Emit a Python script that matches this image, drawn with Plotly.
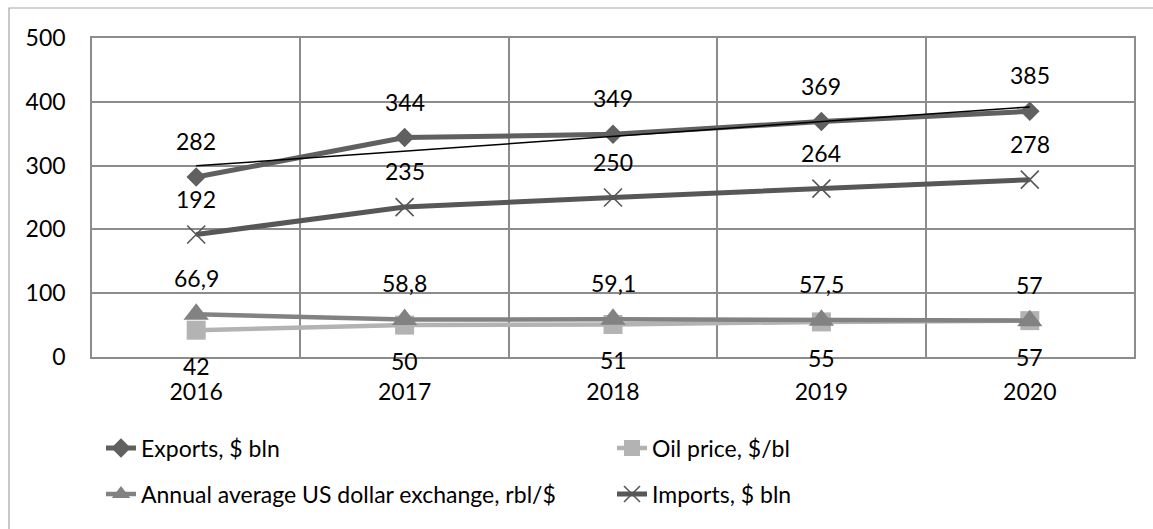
import numpy as np
import plotly.graph_objects as go

years = ["2016", "2017", "2018", "2019", "2020"]
exports = [282, 344, 349, 369, 385]
oil_price = [42, 50, 51, 55, 57]
exchange = [66.9, 58.8, 59.1, 57.5, 57]
imports = [192, 235, 250, 264, 278]
y_ticks = [0, 100, 200, 300, 400, 500]

FONT = "Lato"
FS = 23
xs = list(range(len(years)))

def lab(v):
    return ("%g" % v).replace(".", ",")

fig = go.Figure()

series = [
    ("Exports, $ bln", exports, "#606060", "diamond", 15, 5, "legend", 36),
    ("Oil price, $/bl", oil_price, "#b3b3b3", "square", 19, 4.5, "legend", -36),
    ("Annual average US dollar exchange, rbl/$", exchange, "#828282", "triangle-up", 22, 4.5, "legend2", 36),
    ("Imports, $ bln", imports, "#575757", "x-thin", 18, 5, "legend2", 36),
]

for name, vals, col, sym, ms, lw, lg, shift in series:
    if sym == "x-thin":
        marker = dict(symbol=sym, size=ms, line=dict(color=col, width=1.6), color=col)
    else:
        marker = dict(symbol=sym, size=ms, color=col, line=dict(width=0))
    fig.add_trace(go.Scatter(
        x=xs, y=vals, name=name, mode="lines+markers",
        line=dict(color=col, width=lw), marker=marker, legend=lg,
    ))
    for xi, v in zip(xs, vals):
        fig.add_annotation(x=xi, y=v, xref="x", yref="y", text=lab(v),
                           showarrow=False, yshift=shift,
                           font=dict(family=FONT, size=FS, color="#000"))

# linear trendline of exports
coef = np.polyfit(xs, exports, 1)
trend = np.polyval(coef, xs)
fig.add_trace(go.Scatter(x=xs, y=trend, mode="lines", showlegend=False,
                         line=dict(color="#000000", width=1.5), hoverinfo="skip"))

gridc = "#8c8c8c"
fig.update_xaxes(
    range=[-0.5, 4.5], tickvals=xs, ticktext=years, showgrid=False,
    zeroline=False, showline=True, mirror=True, linecolor=gridc, linewidth=1.5,
    ticks="", ticklabelstandoff=14,
    tickfont=dict(family=FONT, size=FS, color="#000"),
    minor=dict(tick0=-0.5, dtick=1, showgrid=True, gridcolor=gridc, gridwidth=1.5, ticks=""),
)
fig.update_yaxes(
    range=[0, 500], tickvals=y_ticks, showgrid=True, gridcolor=gridc, gridwidth=1.5,
    zeroline=False, showline=True, mirror=True, linecolor=gridc, linewidth=1.5,
    ticks="", ticklabelstandoff=20,
    tickfont=dict(family=FONT, size=FS, color="#000"),
)

# outer chart border
W, H = 1153, 529
L, R, T, B = 92, 19, 38, 172
pw, ph = W - L - R, H - T - B
fig.add_shape(type="rect", xref="paper", yref="paper",
              x0=(9 - L) / pw, x1=(1165 - L) / pw,
              y0=((H - B) - 540) / ph, y1=((H - B) - 8) / ph,
              line=dict(color="#a6a6a6", width=1.2), layer="below")

leg_common = dict(orientation="h", entrywidth=466, entrywidthmode="pixels",
                  font=dict(family=FONT, size=FS, color="#000"),
                  bgcolor="rgba(0,0,0,0)", xanchor="left", yanchor="middle",
                  itemsizing="trace")
fig.update_layout(
    width=W, height=H,
    margin=dict(l=L, r=R, t=T, b=B),
    plot_bgcolor="white", paper_bgcolor="white",
    font=dict(family=FONT, size=FS, color="#000"),
    legend=dict(x=(101 - L) / pw, y=((H - B) - 448) / ph, **leg_common),
    legend2=dict(x=(101 - L) / pw, y=((H - B) - 494) / ph, **leg_common),
)

fig.write_html("out.html", config={"displayModeBar": False},
               post_script="document.body.style.margin='0';")
